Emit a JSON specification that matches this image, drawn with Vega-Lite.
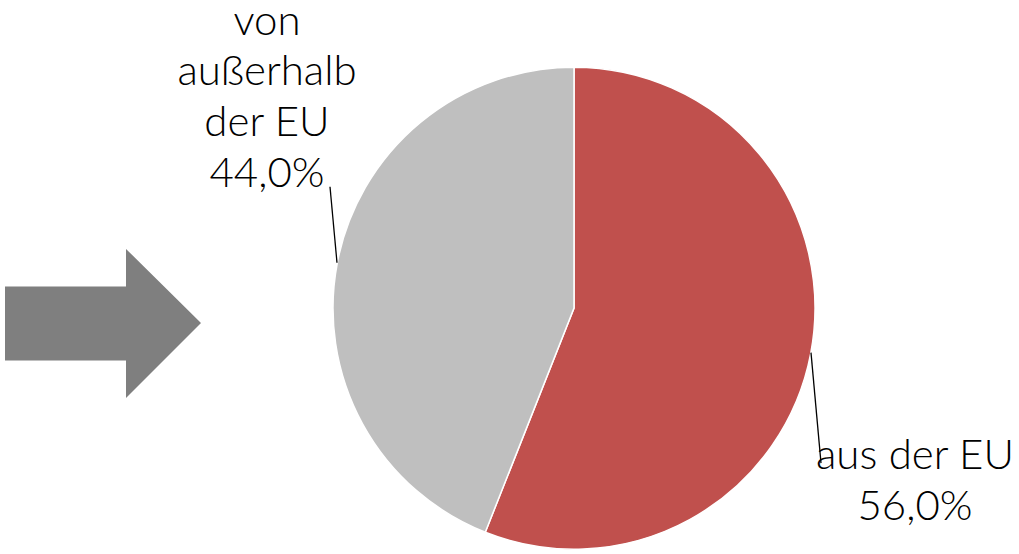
{
  "$schema": "https://vega.github.io/schema/vega-lite/v6.json",
  "width": 1019,
  "height": 554,
  "autosize": {"type": "fit", "contains": "padding"},
  "padding": 0,
  "background": "white",
  "config": {"view": {"stroke": null}},
  "datasets": {
    "slices": [
      {"category": "aus der EU", "value": 56.0, "ord": 1},
      {"category": "von außerhalb der EU", "value": 44.0, "ord": 2}
    ],
    "arrow": [
      {"i": 1, "x": 5, "top": 283, "bottom": 358},
      {"i": 2, "x": 126, "top": 283, "bottom": 358},
      {"i": 3, "x": 126.01, "top": 245, "bottom": 396},
      {"i": 4, "x": 201, "top": 320, "bottom": 320}
    ],
    "leaders": [
      {"x": 330, "y": 182, "x2": 337, "y2": 259},
      {"x": 811, "y": 350, "x2": 821, "y2": 462}
    ],
    "labels": [
      {"text": "von", "x": 267, "y": 28},
      {"text": "außerhalb", "x": 267, "y": 79},
      {"text": "der EU", "x": 267, "y": 131},
      {"text": "44,0%", "x": 267, "y": 182},
      {"text": "aus der EU", "x": 915, "y": 468},
      {"text": "56,0%", "x": 915, "y": 520}
    ]
  },
  "layer": [
    {
      "data": {"name": "arrow"},
      "mark": {"type": "area", "color": "#7F7F7F", "orient": "vertical", "interpolate": "linear"},
      "encoding": {
        "x": {"field": "x", "type": "quantitative", "scale": {"domain": [0, 1019], "nice": false, "zero": false}, "axis": null},
        "y": {"field": "top", "type": "quantitative", "stack": null, "scale": {"domain": [0, 554], "nice": false, "zero": false, "reverse": true}, "axis": null},
        "y2": {"field": "bottom"}
      }
    },
    {
      "data": {"name": "slices"},
      "mark": {"type": "arc", "outerRadius": 241, "stroke": "white", "strokeWidth": 1.5},
      "encoding": {
        "x": {"datum": 574, "type": "quantitative", "scale": {"domain": [0, 1019], "nice": false, "zero": false}, "axis": null},
        "y": {"datum": 305, "type": "quantitative", "scale": {"domain": [0, 554], "nice": false, "zero": false, "reverse": true}, "axis": null},
        "theta": {"field": "value", "type": "quantitative", "stack": true},
        "order": {"field": "ord", "type": "quantitative"},
        "color": {"field": "category", "type": "nominal", "scale": {"domain": ["aus der EU", "von außerhalb der EU"], "range": ["#C0504D", "#BFBFBF"]}, "legend": null}
      }
    },
    {
      "data": {"name": "leaders"},
      "mark": {"type": "rule", "color": "black", "strokeWidth": 1.3},
      "encoding": {
        "x": {"field": "x", "type": "quantitative"},
        "y": {"field": "y", "type": "quantitative"},
        "x2": {"field": "x2"},
        "y2": {"field": "y2"}
      }
    },
    {
      "data": {"name": "labels"},
      "mark": {"type": "text", "font": "Lato", "fontSize": 42, "fontWeight": 300, "color": "black", "align": "center", "baseline": "alphabetic"},
      "encoding": {
        "x": {"field": "x", "type": "quantitative"},
        "y": {"field": "y", "type": "quantitative"},
        "text": {"field": "text", "type": "nominal"}
      }
    }
  ]
}
